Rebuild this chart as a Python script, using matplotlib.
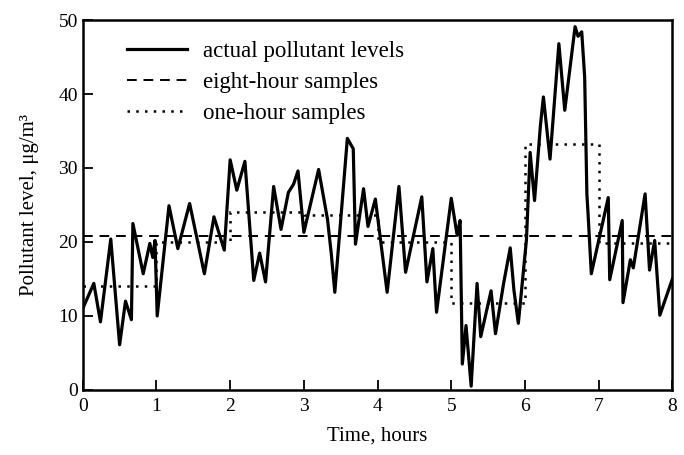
#!/usr/bin/env python3
"""Pollutant level vs time: actual levels with eight-hour and one-hour samples."""
import matplotlib
matplotlib.use("Agg")
import matplotlib.pyplot as plt

# actual pollutant levels (hours, ug/m3)
hours = [0.0, 0.15, 0.24, 0.38, 0.50, 0.58, 0.66, 0.68, 0.82, 0.91, 0.95, 0.98,
         1.01, 1.17, 1.29, 1.45, 1.65, 1.78, 1.92, 2.00, 2.09, 2.20, 2.32, 2.40,
         2.48, 2.59, 2.69, 2.79, 2.86, 2.92, 3.00, 3.20, 3.32, 3.37, 3.42, 3.59,
         3.67, 3.70, 3.81, 3.87, 3.97, 4.13, 4.29, 4.38, 4.60, 4.67, 4.75, 4.80,
         5.00, 5.08, 5.12, 5.15, 5.20, 5.27, 5.35, 5.40, 5.54, 5.60, 5.71, 5.80,
         5.85, 5.91, 6.02, 6.07, 6.13, 6.21, 6.25, 6.34, 6.46, 6.54, 6.68, 6.72,
         6.77, 6.81, 6.84, 6.86, 6.90, 7.13, 7.15, 7.32, 7.33, 7.43, 7.47, 7.63,
         7.69, 7.76, 7.83, 8.00]
levels = [11.0, 14.4, 9.2, 20.4, 6.1, 12.0, 9.5, 22.5, 15.7, 19.8, 17.9, 20.2,
          10.0, 24.9, 19.1, 25.2, 15.7, 23.4, 18.9, 31.1, 27.0, 30.9, 14.8, 18.5,
          14.6, 27.5, 21.7, 26.7, 27.8, 29.6, 21.3, 29.8, 23.1, 18.6, 13.2, 34.0,
          32.6, 19.7, 27.2, 22.1, 25.8, 13.2, 27.5, 15.9, 26.1, 14.6, 19.1, 10.5,
          25.9, 20.9, 22.9, 3.5, 8.7, 0.5, 14.4, 7.2, 13.4, 7.6, 14.4, 19.2,
          13.5, 9.0, 20.3, 32.1, 25.6, 35.8, 39.6, 31.2, 46.8, 37.8, 49.1, 47.8,
          48.4, 42.3, 26.5, 23.1, 15.7, 26.0, 14.9, 22.9, 11.8, 17.6, 16.5, 26.5,
          16.2, 20.2, 10.1, 15.0]

# eight-hour sample
eight_hr_x = [0, 8]
eight_hr_y = [20.8, 20.8]

# one-hour samples (hour boundaries and value for each hour)
one_hr_edges = [0, 1, 2, 3, 4, 5, 6, 7, 8]
one_hr_vals = [14.0, 20.0, 24.0, 23.6, 20.0, 11.7, 33.2, 19.8]

plt.rcParams["font.family"] = ["Liberation Serif", "DejaVu Serif"]

fig = plt.figure(figsize=(6.84, 4.55), dpi=100)
ax = fig.add_axes([0.121, 0.143, 0.862, 0.813])

ax.plot(hours, levels, "-", color="black", linewidth=2.3,
        label="actual pollutant levels")
ax.plot(eight_hr_x, eight_hr_y, "--", color="black", linewidth=1.4,
        dashes=(5, 3.5), label="eight-hour samples")
ax.stairs(one_hr_vals, one_hr_edges, color="black", linewidth=1.8,
          linestyle=(0, (1, 2.5)), label="one-hour samples", baseline=None)

ax.set_xlim(0, 8)
ax.set_ylim(0, 50)
ax.set_xticks(range(0, 9))
ax.set_yticks(range(0, 51, 10))
ax.tick_params(direction="in", length=7, width=1.3, labelsize=14,
               top=False, right=False)
ax.tick_params(axis="x", pad=6)
for sp in ax.spines.values():
    sp.set_linewidth(1.8)

ax.set_xlabel("Time, hours", fontsize=15, labelpad=8)
ax.set_ylabel("Pollutant level, μg/m³", fontsize=15, labelpad=14)

ax.legend(loc="upper left", frameon=False, fontsize=16.5,
          handlelength=2.6, handletextpad=0.7, labelspacing=0.45,
          bbox_to_anchor=(0.04, 1.0))

fig.savefig("out.png", dpi=100)
